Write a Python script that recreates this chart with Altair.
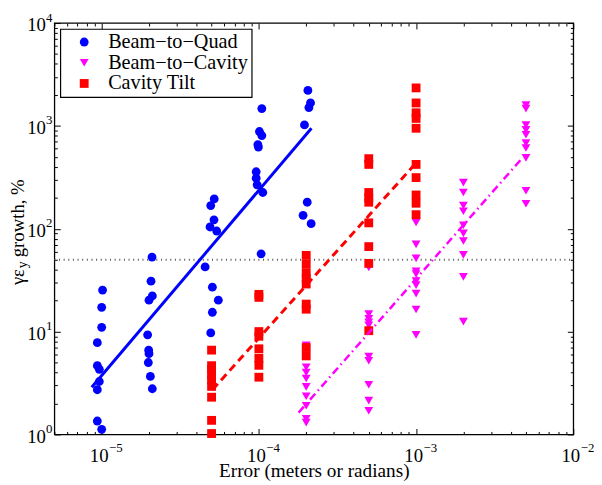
import json
import altair as alt
import pandas as pd

FONT = "'Liberation Serif', 'Times New Roman', Times, serif"

series_names = ["Beam\u2212to\u2212Quad", "Beam\u2212to\u2212Cavity", "Cavity Tilt"]
series_colors = ["#0000ff", "#ff00ff", "#ff0000"]
series_shapes = ["circle", "triangle-down", "square"]
series_sizes = [80, 80, 48]

# Beam-to-Quad (blue circles)
quad_x = [1.013e-5, 1.0e-5, 1.0e-5, 0.938e-5, 0.938e-5, 0.966e-5, 0.966e-5, 0.938e-5, 0.938e-5, 1.0e-5,
          2.09e-5, 2.06e-5, 2.1e-5, 2.0e-5, 1.96e-5, 1.99e-5, 2.0e-5, 1.98e-5, 2.04e-5, 2.1e-5,
          5.2e-5, 4.94e-5, 5.18e-5, 4.89e-5, 5.39e-5, 4.55e-5, 5.06e-5, 5.52e-5, 5.06e-5, 4.94e-5,
          1.044e-4, 1.008e-4, 1.044e-4, 0.985e-4, 0.993e-4, 0.961e-4, 0.961e-4, 0.975e-4, 1.059e-4, 1.033e-4,
          2.05e-4, 2.13e-4, 2.08e-4, 1.95e-4, 2.03e-4, 1.91e-4, 2.15e-4]
quad_y = [25.3, 17.2, 11.0, 7.8, 4.66, 4.3, 3.27, 2.72, 1.35, 1.12,
          53, 30.9, 22.2, 20.2, 9.3, 6.6, 6.1, 5.0, 3.66, 2.78,
          195, 168, 122, 104, 95, 42.5, 27, 20.2, 15.4, 9.7,
          1473, 881, 806, 656, 623, 358, 310, 267, 225, 57,
          2213, 1671, 1507, 1021, 181, 135, 112]

# Beam-to-Cavity (magenta triangles)
cav_x = [2e-4] * 10 + [5e-4] * 10 + [1e-3] * 10 + [2e-3] * 10 + [5e-3] * 10
cav_y = [7.35, 6.8, 4.5, 4.0, 3.5, 2.9, 2.35, 1.9, 1.42, 1.3,
         42, 14.8, 13.3, 12.3, 11.5, 5.7, 5.2, 3.04, 2.13, 1.7,
         115, 70.5, 51.5, 38.5, 36.3, 30.9, 28.3, 23.4, 16.4, 9.3,
         281, 225, 168, 148, 108, 90, 76, 55.7, 34, 12.5,
         1589, 1473, 1021, 914, 819, 681, 609, 489, 234, 175]

# Cavity Tilt (red squares)
tilt_x = [5e-5] * 9 + [1e-4] * 8 + [2e-4] * 9 + [5e-4] * 9 + [1e-3] * 10
tilt_y = [6.6, 4.66, 4.3, 3.79, 3.39, 2.93, 2.3, 1.37, 1.02,
          23, 21.5, 10, 9, 6.8, 5.5, 4.7, 3.6,
          55, 45, 37, 33, 29, 18.5, 16.5, 7.0, 5.8,
          480, 422, 225, 200, 181, 114, 67, 46, 10.2,
          2340, 1671, 1340, 1182, 948, 422, 314, 213, 177, 137]

# fitted trend lines
quad_fit_x = [0.864e-5, 2.16e-4]
quad_fit_y = [2.87, 948]
tilt_fit_x = [5.07e-5, 0.994e-3]
tilt_fit_y = [2.72, 432]
cav_fit_x = [1.79e-4, 4.75e-3]
cav_fit_y = [1.63, 489]

threshold_y = 50

x_domain = [5e-6, 1e-2]
y_domain = [1, 1e4]

x_major = [1e-5, 1e-4, 1e-3, 1e-2]
x_exp_labels = ["\u22125", "\u22124", "\u22123", "\u22122"]
x_exp_first = -5
y_major = [1, 10, 100, 1000, 10000]
y_exp_labels = ["0", "1", "2", "3", "4"]
y_exp_first = 0

x_all_ticks = [m * 10.0 ** k for k in range(-6, -1) for m in range(1, 10)
               if x_domain[0] * 0.999 <= m * 10.0 ** k <= x_domain[1] * 1.001]
y_all_ticks = [m * 10.0 ** k for k in range(0, 5) for m in range(1, 10)
               if y_domain[0] * 0.999 <= m * 10.0 ** k <= y_domain[1] * 1.001]

W, H = 526, 417

pts = pd.concat([
    pd.DataFrame({"x": quad_x, "y": quad_y, "series": series_names[0]}),
    pd.DataFrame({"x": cav_x, "y": cav_y, "series": series_names[1]}),
    pd.DataFrame({"x": tilt_x, "y": tilt_y, "series": series_names[2]}),
], ignore_index=True)
pts["order"] = range(len(pts))

xs = alt.Scale(type="log", domain=x_domain, nice=False)
ys = alt.Scale(type="log", domain=y_domain, nice=False)

major_test = "abs(log(datum.value)/LN10 - round(log(datum.value)/LN10)) < 0.001"
tick_size = {"condition": {"test": major_test, "value": 6}, "value": 3}


def tick_axis(orient, offset, values, **kw):
    return alt.Axis(orient=orient, offset=offset, values=values, labels=False,
                    domain=False, grid=False, ticks=True, tickColor="black",
                    tickWidth=1, tickSize=tick_size, title=kw.pop("title", None), **kw)


def exp_expr(labels, first):
    arr = json.dumps(labels, ensure_ascii=False)
    return f"{arr}[round(log(datum.value)/LN10) - ({first})]"


common_lbl = dict(domain=False, grid=False, ticks=False, tickSize=0,
                  labelFont=FONT, labelColor="black", labelFlush=False,
                  labelOverlap=False)
title_style = dict(titleFont=FONT, titleFontWeight="normal", titleColor="black")

# x axes
x_lbl_axis = alt.Axis(orient="bottom", values=x_major, labelExpr="'10'",
                      labelFontSize=19, labelAlign="center", labelBaseline="alphabetic",
                      labelPadding=27, labelOffset=-3,
                      title="Error (meters or radians)", titleFontSize=19.5,
                      titleBaseline="alphabetic", titleY=43, titleX=W / 2,
                      **title_style, **common_lbl)
x_exp_axis = alt.Axis(orient="bottom", values=x_major, labelExpr=exp_expr(x_exp_labels, x_exp_first),
                      labelFontSize=13, labelAlign="left", labelBaseline="alphabetic",
                      labelPadding=17, labelOffset=7, title=None, **common_lbl)
x_tick_bottom = tick_axis("top", -H, x_all_ticks)
x_tick_top = tick_axis("bottom", -H, x_all_ticks)

# y axes (title pieces: "γε", subscript "y", "growth, %")
y_lbl_axis = alt.Axis(orient="left", values=y_major, labelExpr="'10'",
                      labelFontSize=19, labelAlign="right", labelBaseline="alphabetic",
                      labelPadding=9, labelOffset=8,
                      title="\u03b3\u03b5", titleFontSize=19, titleAngle=270,
                      titleAlign="left", titleBaseline="alphabetic",
                      titleX=-31.5, titleY=265, **title_style, **common_lbl)
y_exp_axis = alt.Axis(orient="left", values=y_major, labelExpr=exp_expr(y_exp_labels, y_exp_first),
                      labelFontSize=13, labelAlign="left", labelBaseline="alphabetic",
                      labelPadding=9, labelOffset=-2,
                      title="growth, %", titleFontSize=19, titleAngle=270,
                      titleAlign="left", titleBaseline="alphabetic",
                      titleX=-31.5, titleY=237, **title_style, **common_lbl)
y_tick_left = tick_axis("right", -W, y_all_ticks, titleFontSize=14, titleAngle=270,
                        titleAlign="left", titleBaseline="alphabetic", titleX=-28, titleY=248,
                        title="y", **title_style)
y_tick_right = tick_axis("left", -W, y_all_ticks)

hline = alt.Chart(pd.DataFrame({"x": x_domain, "y": [threshold_y] * 2})).mark_line(
    color="#555555", strokeDash=[1, 3.7], strokeWidth=2
).encode(
    x=alt.X("x:Q", scale=xs, axis=None),
    y=alt.Y("y:Q", scale=ys, axis=None),
)

leg = alt.Legend(title=None, orient="top-left", offset=6, labelFont=FONT, labelFontSize=20.5,
                 labelColor="black")
points = alt.Chart(pts).mark_point(filled=True, opacity=1, strokeWidth=0).encode(
    x=alt.X("x:Q", scale=xs, axis=x_lbl_axis),
    y=alt.Y("y:Q", scale=ys, axis=y_lbl_axis),
    color=alt.Color("series:N", scale=alt.Scale(domain=series_names, range=series_colors), legend=leg),
    shape=alt.Shape("series:N", scale=alt.Scale(domain=series_names, range=series_shapes), legend=leg),
    size=alt.Size("series:N", scale=alt.Scale(domain=series_names, range=series_sizes), legend=leg),
    order=alt.Order("order:Q"),
)

quad_line = alt.Chart(pd.DataFrame({"x": quad_fit_x, "y": quad_fit_y})).mark_line(
    color=series_colors[0], strokeWidth=3
).encode(
    x=alt.X("x:Q", scale=xs, axis=x_exp_axis),
    y=alt.Y("y:Q", scale=ys, axis=y_exp_axis),
)
tilt_line = alt.Chart(pd.DataFrame({"x": tilt_fit_x, "y": tilt_fit_y})).mark_line(
    color=series_colors[2], strokeWidth=3, strokeDash=[8, 5]
).encode(
    x=alt.X("x:Q", scale=xs, axis=x_tick_bottom),
    y=alt.Y("y:Q", scale=ys, axis=y_tick_left),
)
cav_line = alt.Chart(pd.DataFrame({"x": cav_fit_x, "y": cav_fit_y})).mark_line(
    color=series_colors[1], strokeWidth=2.5, strokeDash=[8, 4, 1.5, 4]
).encode(
    x=alt.X("x:Q", scale=xs, axis=x_tick_top),
    y=alt.Y("y:Q", scale=ys, axis=y_tick_right),
)

chart = alt.layer(hline, points, quad_line, tilt_line, cav_line).resolve_axis(
    x="independent", y="independent"
).properties(
    width=W, height=H,
    autosize=alt.AutoSizeParams(type="none"),
    padding={"left": 47, "top": 12, "right": 21, "bottom": 45},
    background="white",
).configure(
    font=FONT
).configure_view(
    stroke="black", strokeWidth=1.3
).configure_legend(
    labelFont=FONT, labelFontSize=20.5, labelColor="black",
    fillColor="white", strokeColor="black", strokeWidth=1.2,
    padding=3, rowPadding=0, symbolOffset=11, labelOffset=14,
    symbolStrokeWidth=0, labelLimit=400, cornerRadius=0,
)

chart.save("out.html", embed_options={"renderer": "svg", "actions": False})
